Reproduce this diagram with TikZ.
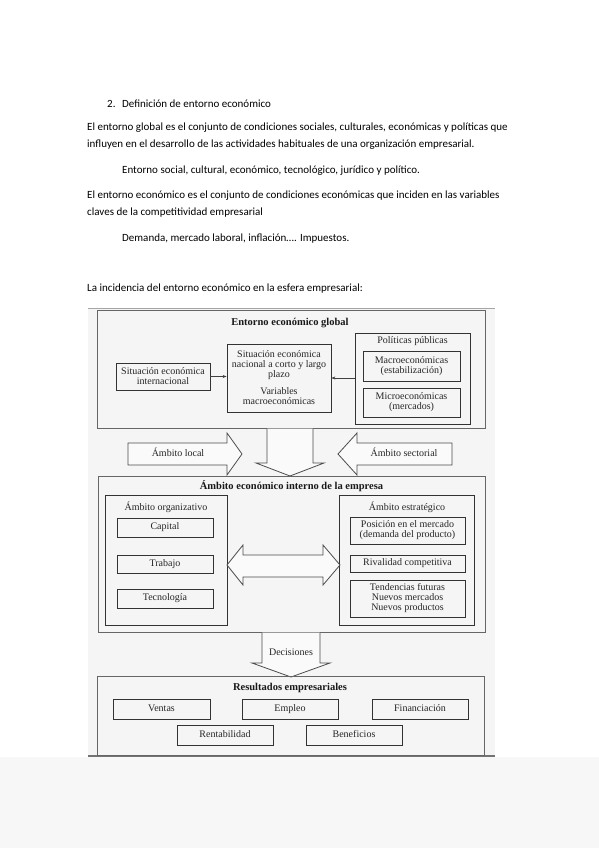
\documentclass[tikz,border=0pt]{standalone}
\usepackage{fontspec}
\setmainfont{Carlito}
\newfontfamily\scanfont{Liberation Serif}
\usetikzlibrary{arrows.meta}

\begin{document}
\begin{tikzpicture}[x=1pt,y=-1pt,
	txt/.style={anchor=west,inner sep=0pt,font=\fontsize{11}{12}\selectfont},
	frame/.style={draw=black!60,line width=0.9pt,inner sep=0pt},
	box/.style={draw=black!80,line width=0.8pt,inner sep=0pt,align=center,text=black!85,
		font=\scanfont\fontsize{10}{10}\selectfont},
	sbox/.style={box,text height=7pt,text depth=2.2pt},
	lbl/.style={inner sep=0pt,align=center,text=black!85,text height=7pt,text depth=2.2pt,
		font=\scanfont\fontsize{10}{10}\selectfont},
	ttl/.style={inner sep=0pt,text=black!90,text height=7pt,text depth=2.2pt,
		font=\scanfont\bfseries\fontsize{10.5}{10}\selectfont},
	blk/.style={draw=black!70,line width=0.8pt,fill=black!2,line join=miter},
	tip/.style={-{Stealth[length=4pt,width=3pt]},draw=black!75,line width=0.6pt}]
	\useasboundingbox (0,0) rectangle (599,848);
	\fill[white] (0,0) rectangle (599,848);
	\fill[black!3] (0,757) rectangle (599,848);
	% text of the page
	\node[txt] (num) at (107,104) {2.};
	\node[txt] (head) at (122,104) {Definición de entorno económico};
	\node[txt] (p1) at (87,128) {El entorno global es el conjunto de condiciones sociales, culturales, económicas y políticas que};
	\node[txt] (p2) at (87,145) {influyen en el desarrollo de las actividades habituales de una organización empresarial.};
	\node[txt] (p3) at (122,171) {Entorno social, cultural, económico, tecnológico, jurídico y político.};
	\node[txt] (p4) at (87,196) {El entorno económico es el conjunto de condiciones económicas que inciden en las variables};
	\node[txt] (p5) at (87,213) {claves de la competitividad empresarial};
	\node[txt] (p6) at (122,239) {Demanda, mercado laboral, inflación…. Impuestos.};
	\node[txt] (p7) at (87,289) {La incidencia del entorno económico en la esfera empresarial:};
	% scanned figure
	\fill[black!4] (88,308) rectangle (495,757);
	\draw[black!35,line width=1pt] (88,308.5) -- (495,308.5);
	\draw[black!55,line width=1.2pt] (88,756) -- (495,756);
	% entorno global
	\node[frame,minimum width=388,minimum height=118] (glob) at (291,369) {};
	\node[ttl] (globt) at (290,323) {Entorno económico global};
	\node[box,minimum width=94,minimum height=27] (intl) at (163,376.5) {Situación económica\\internacional};
	\node[box,minimum width=104,minimum height=68] (nac) at (279,378)
		{Situación económica\\nacional a corto y largo\\plazo\\[7pt]Variables\\macroeconómicas};
	\node[box,minimum width=115,minimum height=91] (pol) at (412.5,378.5) {};
	\node[lbl] (polt) at (412.5,341) {Políticas públicas};
	\node[box,minimum width=97,minimum height=30] (macro) at (411.5,366) {Macroeconómicas\\(estabilización)};
	\node[box,minimum width=97,minimum height=29] (micro) at (411.5,402.5) {Microeconómicas\\(mercados)};
	\draw[tip] (intl.east) -- (intl.east -| nac.west);
	\draw[tip] (pol.west |- nac.east) -- (nac.east);
	% block arrows
	\draw[blk] (128,443) -- (227,443) -- (227,433) -- (242,454) -- (227,475) -- (227,465) -- (128,465) -- cycle;
	\node[lbl] (local) at (178,454) {Ámbito local};
	\draw[blk] (452,443) -- (357,443) -- (357,433) -- (338,454) -- (357,475) -- (357,465) -- (452,465) -- cycle;
	\node[lbl] (sect) at (404,454) {Ámbito sectorial};
	\draw[blk] (267,428.5) -- (267,463) -- (256,463) -- (290,476) -- (324,463) -- (313,463) -- (313,428.5);
	% ambito interno
	\node[frame,minimum width=387,minimum height=156] (inter) at (291.5,554) {};
	\node[ttl] (intert) at (291.5,487) {Ámbito económico interno de la empresa};
	\node[box,minimum width=122,minimum height=130] (org) at (166,560) {};
	\node[lbl] (orgt) at (166,508) {Ámbito organizativo};
	\node[sbox,minimum width=96,minimum height=19] (cap) at (165,527.5) {Capital};
	\node[sbox,minimum width=96,minimum height=18] (trab) at (165,564) {Trabajo};
	\node[sbox,minimum width=96,minimum height=19] (tec) at (165,598.5) {Tecnología};
	\node[box,minimum width=135,minimum height=130] (estr) at (406.5,560) {};
	\node[lbl] (estrt) at (407,508) {Ámbito estratégico};
	\node[box,minimum width=115,minimum height=27] (posic) at (407.5,530.5) {Posición en el mercado\\(demanda del producto)};
	\node[sbox,minimum width=115,minimum height=17] (rival) at (407.5,563.5) {Rivalidad competitiva};
	\node[box,minimum width=115,minimum height=37] (tend) at (407.5,598.5) {Tendencias futuras\\Nuevos mercados\\Nuevos productos};
	\draw[blk] (227,565) -- (243,545) -- (243,555) -- (323,555) -- (323,545) -- (340,565)
		-- (323,585) -- (323,577) -- (243,577) -- (243,585) -- cycle;
	% decisiones
	\draw[blk] (262,632.5) -- (262,663) -- (252,663) -- (291,677) -- (330,663) -- (320,663) -- (320,632.5);
	\node[lbl] (dec) at (291,653) {Decisiones};
	% resultados
	\node[frame,minimum width=387,minimum height=79] (res) at (290.5,715.5) {};
	\node[ttl] (rest) at (290,688) {Resultados empresariales};
	\node[sbox,minimum width=97,minimum height=20] (vent) at (161.5,709) {Ventas};
	\node[sbox,minimum width=96,minimum height=20] (empl) at (290,709) {Empleo};
	\node[sbox,minimum width=96,minimum height=20] (fin) at (420,709) {Financiación};
	\node[sbox,minimum width=96,minimum height=20] (rent) at (225,735) {Rentabilidad};
	\node[sbox,minimum width=96,minimum height=20] (ben) at (354,735) {Beneficios};
\end{tikzpicture}
\end{document}
